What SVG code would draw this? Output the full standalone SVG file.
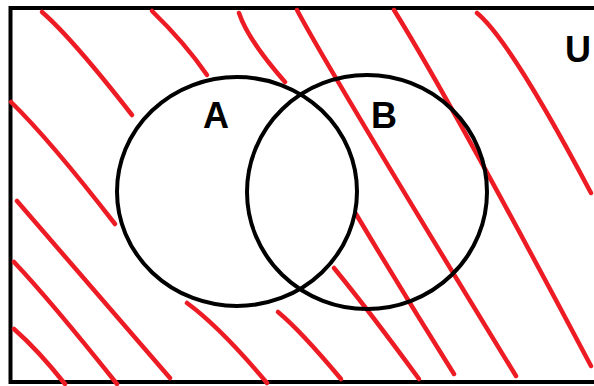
<svg xmlns="http://www.w3.org/2000/svg" width="594" height="386" viewBox="0 0 594 386">
<style>
.frame{fill:none;stroke:#000;stroke-width:4}
.set{fill:none;stroke:#000;stroke-width:4}
.hatch path{fill:none;stroke:#ed1c24;stroke-width:4.5;stroke-linecap:round;stroke-linejoin:round}
.lbl{font-family:"Liberation Sans",Arial,sans-serif;font-weight:bold;font-size:36px;fill:#000}
</style>
<rect width="594" height="386" fill="#fff"/>
<g id="universe">
<rect class="frame" x="10.5" y="8" width="600" height="374"/>
<text class="lbl" x="565" y="62">U</text>
</g>
<g id="hatching" class="hatch">
<path d="M42,12 Q72,38 132,115"/>
<path d="M152,11 Q185,43 207,75"/>
<path d="M239,13 Q248,40 285,82"/>
<path d="M11,102 Q50,140 115,224"/>
<path d="M297,10 Q330,72 516,376"/>
<path d="M394,10 Q450,100 591,366"/>
<path d="M477,13 Q510,40 591,193"/>
<path d="M356,214 Q405,296 454,374"/>
<path d="M334,268 Q370,312 419,379"/>
<path d="M278,312 Q300,330 341,379"/>
<path d="M187,303 Q220,327 267,383"/>
<path d="M17,201 Q75,268 170,378"/>
<path d="M14,262 Q50,300 117,384"/>
<path d="M14,329 Q38,350 65,384"/>
</g>
<g id="setA">
<ellipse class="set" cx="237" cy="191.5" rx="120" ry="114.5"/>
<text class="lbl" x="203" y="128">A</text>
</g>
<g id="setB">
<ellipse class="set" cx="367" cy="192" rx="120" ry="117"/>
<text class="lbl" x="371" y="128">B</text>
</g>
</svg>
